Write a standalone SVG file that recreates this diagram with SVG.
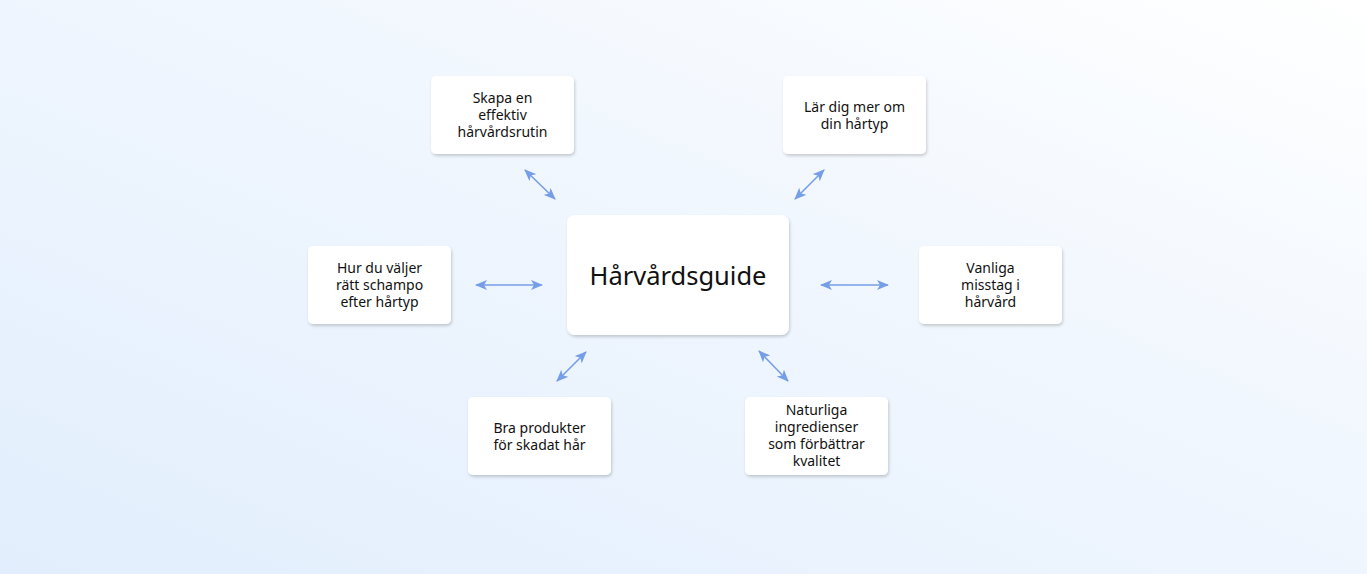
<svg xmlns="http://www.w3.org/2000/svg" width="1367" height="574" viewBox="0 0 1367 574">
<defs>
<linearGradient id="bg" x1="0" y1="1" x2="1" y2="0"><stop offset="0" stop-color="#e2eefd"/><stop offset="0.6" stop-color="#f1f7fe"/><stop offset="1" stop-color="#ffffff"/></linearGradient>
<filter id="sh" x="-20%" y="-20%" width="140%" height="150%"><feDropShadow dx="1" dy="2" stdDeviation="1.5" flood-color="#000" flood-opacity="0.18"/></filter>
<marker id="ah" viewBox="0 0 12 10" refX="11" refY="5" markerWidth="12" markerHeight="10" markerUnits="userSpaceOnUse" orient="auto-start-reverse"><path d="M0,0 L12,5 L0,10 L3,5 Z" fill="#769ee8"/></marker>
</defs>
<style>
.n rect{fill:#fff;filter:url(#sh)}
.n text{font-family:"Noto Sans",Lato,sans-serif;font-size:14px;fill:#111;text-anchor:middle}
.c line{stroke:#769ee8;stroke-width:1.6;marker-start:url(#ah);marker-end:url(#ah)}
</style>
<rect width="1367" height="574" fill="url(#bg)"/>
<g class="c">
<line x1="525" y1="170" x2="555" y2="199"/>
<line x1="824" y1="170" x2="795" y2="199"/>
<line x1="476" y1="285" x2="542" y2="285"/>
<line x1="821" y1="285" x2="888" y2="285"/>
<line x1="586" y1="352" x2="557" y2="381"/>
<line x1="759" y1="351" x2="788" y2="381"/>
</g>
<g id="center" class="n"><rect x="567" y="215" width="222" height="120" rx="8"/><text x="678" y="285" style="font-size:25.5px">Hårvårdsguide</text></g>
<g id="skapa" class="n"><rect x="431" y="76" width="143" height="78" rx="5"/><text x="502.5" y="103">Skapa en</text><text x="502.5" y="120">effektiv</text><text x="502.5" y="137">hårvårdsrutin</text></g>
<g id="lar" class="n"><rect x="783" y="76" width="143" height="78" rx="5"/><text x="854.5" y="112">Lär dig mer om</text><text x="854.5" y="129">din hårtyp</text></g>
<g id="hur" class="n"><rect x="308" y="246" width="143" height="78" rx="5"/><text x="379.5" y="273">Hur du väljer</text><text x="379.5" y="290">rätt schampo</text><text x="379.5" y="307">efter hårtyp</text></g>
<g id="vanliga" class="n"><rect x="919" y="246" width="143" height="78" rx="5"/><text x="990.5" y="273">Vanliga</text><text x="990.5" y="290">misstag i</text><text x="990.5" y="307">hårvård</text></g>
<g id="bra" class="n"><rect x="468" y="397" width="143" height="78" rx="5"/><text x="539.5" y="433">Bra produkter</text><text x="539.5" y="450">för skadat hår</text></g>
<g id="naturliga" class="n"><rect x="745" y="397" width="143" height="78" rx="5"/><text x="816.5" y="415">Naturliga</text><text x="816.5" y="432">ingredienser</text><text x="816.5" y="449">som förbättrar</text><text x="816.5" y="466">kvalitet</text></g>
</svg>
